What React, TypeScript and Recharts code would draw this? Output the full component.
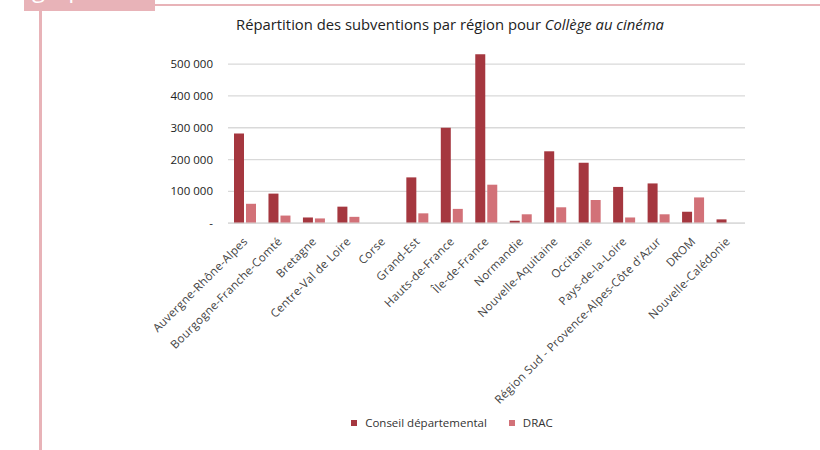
import React from 'react';
import { BarChart, Bar, XAxis, YAxis, CartesianGrid, Legend } from 'recharts';

const regions = [
  'Auvergne-Rhône-Alpes',
  'Bourgogne-Franche-Comté',
  'Bretagne',
  'Centre-Val de Loire',
  'Corse',
  'Grand-Est',
  'Hauts-de-France',
  'Île-de-France',
  'Normandie',
  'Nouvelle-Aquitaine',
  'Occitanie',
  'Pays-de-la-Loire',
  'Région Sud - Provence-Alpes-Côte d\'Azur',
  'DROM',
  'Nouvelle-Calédonie',
];
const conseilDepartemental = [282000, 93000, 18000, 52000, 0, 144000, 300000, 531000, 8000, 226000, 190000, 114000, 125000, 36000, 12000];
const drac = [61000, 24000, 15000, 20000, 0, 31000, 45000, 121000, 28000, 50000, 73000, 18000, 28000, 81000, 0];
const yTicks = [0, 100000, 200000, 300000, 400000, 500000];

const data = regions.map((r, i) => ({ region: r, cd: conseilDepartemental[i], drac: drac[i] }));

const FONT = '"Open Sans", Lato, sans-serif';
const CD_COLOR = '#a5373f';
const DRAC_COLOR = '#d27178';
const PINK = '#e8b3b8';

const fmt = (v: number) => (v === 0 ? '-' : v.toLocaleString('fr-FR').replace(/\s/g, ' '));

const XTick = (props: any) => {
  const { x, y, payload } = props;
  const tx = x + 3;
  const ty = y + 11;
  return (
    <text
      x={tx}
      y={ty}
      transform={`rotate(-45 ${tx} ${ty})`}
      textAnchor="end"
      fontSize={11.5}
      letterSpacing={0.3}
      fontFamily={FONT}
      fill="#444"
    >
      {payload.value}
    </text>
  );
};

const LegendContent = () => {
  const items = [
    { label: 'Conseil départemental', color: CD_COLOR },
    { label: 'DRAC', color: DRAC_COLOR },
  ];
  return (
    <div style={{ width: 904, display: 'flex', justifyContent: 'center', gap: 22, fontFamily: FONT, fontSize: 11.5, color: '#333', lineHeight: '16px' }}>
      {items.map((it) => (
        <div key={it.label} style={{ display: 'flex', alignItems: 'center' }}>
          <span style={{ display: 'inline-block', width: 6, height: 6, background: it.color, marginRight: 8 }} />
          <span>{it.label}</span>
        </div>
      ))}
    </div>
  );
};

export default function App() {
  return (
    <div style={{ position: 'absolute', left: 0, top: 0, width: 820, height: 450, background: '#fff', overflow: 'hidden' }}>
      <div style={{ position: 'absolute', left: 24, top: 0, width: 131, height: 11, background: PINK, overflow: 'hidden' }}>
        <div style={{ position: 'absolute', left: 8, top: -26, fontFamily: FONT, fontSize: 24, color: '#fff', lineHeight: '28px' }}>graphe</div>
      </div>
      <div style={{ position: 'absolute', left: 155, top: 4, width: 665, height: 2, background: PINK }} />
      <div style={{ position: 'absolute', left: 39, top: 11, width: 2.5, height: 439, background: PINK }} />
      <div
        style={{
          position: 'absolute',
          left: 0,
          top: 14,
          width: 900,
          textAlign: 'center',
          fontFamily: FONT,
          fontSize: 14.8,
          color: '#222',
        }}
      >
        Répartition des subventions par région pour <i>Collège au cinéma</i>
      </div>
      <div style={{ position: 'absolute', left: 0, top: 0 }}>
        <BarChart
          width={820}
          height={450}
          data={data}
          margin={{ top: 32.3, right: 75, bottom: 19, left: 0 }}
          barSize={10}
          barGap={2}
        >
          <CartesianGrid vertical={false} stroke="#d9d9d9" strokeWidth={1.3} horizontalValues={yTicks} />
          <XAxis
            dataKey="region"
            interval={0}
            height={191.8}
            tickLine={false}
            axisLine={{ stroke: '#d9d9d9', strokeWidth: 1.3 }}
            tick={<XTick />}
          />
          <YAxis
            width={228}
            domain={[0, 600000]}
            ticks={yTicks}
            tickLine={false}
            axisLine={false}
            tickMargin={9}
            tickFormatter={fmt}
            tick={{ fontSize: 11.5, fontFamily: FONT, fill: '#222' }}
          />
          <Legend verticalAlign="bottom" content={<LegendContent />} wrapperStyle={{ left: 0, width: 904 }} />
          <Bar dataKey="cd" name="Conseil départemental" fill={CD_COLOR} isAnimationActive={false} />
          <Bar dataKey="drac" name="DRAC" fill={DRAC_COLOR} isAnimationActive={false} />
        </BarChart>
      </div>
    </div>
  );
}
